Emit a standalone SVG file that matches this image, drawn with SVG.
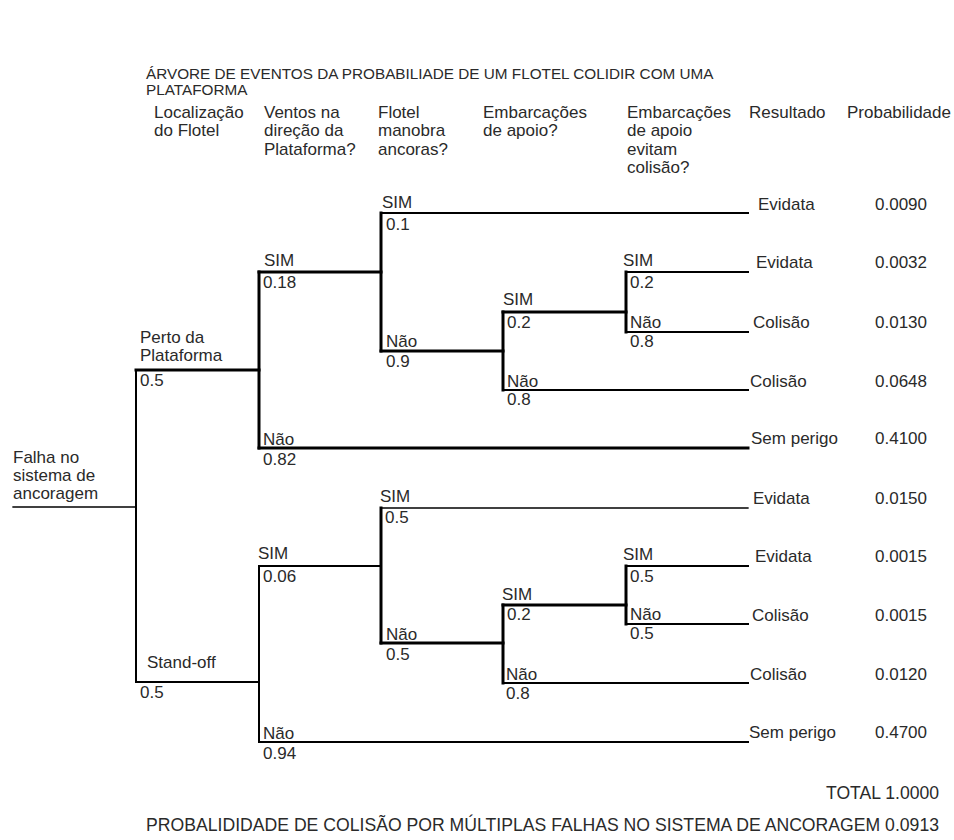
<svg xmlns="http://www.w3.org/2000/svg" width="954" height="840" viewBox="0 0 954 840">
<style>
text{font-family:"Liberation Sans",Arial,sans-serif;fill:#2a2a2a;font-size:17px}
.t{font-size:15.3px}
.b{font-size:18px}
.ln{stroke:#000;fill:none;stroke-linecap:square}
.w1{stroke-width:1.3}
.w2{stroke-width:2}
.w3{stroke-width:3}
</style>
<rect width="954" height="840" fill="#fff"/>
<g id="title">
<text class="t" x="146" y="79">ÁRVORE DE EVENTOS DA PROBABILIADE DE UM FLOTEL COLIDIR COM UMA</text>
<text class="t" x="146" y="95">PLATAFORMA</text>
</g>
<g id="headers">
<text x="154" y="118">Localização</text><text x="154" y="136">do Flotel</text>
<text x="264" y="118">Ventos na</text><text x="264" y="136">direção da</text><text x="264" y="155">Plataforma?</text>
<text x="378" y="118">Flotel</text><text x="378" y="136">manobra</text><text x="378" y="155">ancoras?</text>
<text x="483" y="118">Embarcações</text><text x="483" y="136">de apoio?</text>
<text x="627" y="118">Embarcações</text><text x="627" y="136">de apoio</text><text x="627" y="155">evitam</text><text x="627" y="173">colisão?</text>
<text x="749" y="118">Resultado</text>
<text x="847" y="118">Probabilidade</text>
</g>
<g id="connectors">
<line class="ln w1" x1="13" y1="507" x2="136" y2="507"/>
<line class="ln w2" x1="136" y1="370" x2="136" y2="682"/>
<line class="ln w3" x1="136" y1="370" x2="259" y2="370"/>
<line class="ln w2" x1="136" y1="682" x2="259" y2="682"/>
<line class="ln w3" x1="259" y1="272" x2="259" y2="448"/>
<line class="ln w2" x1="259" y1="566" x2="259" y2="742"/>
<line class="ln w3" x1="259" y1="272" x2="381" y2="272"/>
<line class="ln w3" x1="259" y1="448" x2="748" y2="448"/>
<line class="ln w3" x1="381" y1="213" x2="381" y2="351"/>
<line class="ln w2" x1="381" y1="213" x2="748" y2="213"/>
<line class="ln w3" x1="381" y1="351" x2="503" y2="351"/>
<line class="ln w3" x1="503" y1="312" x2="503" y2="390"/>
<line class="ln w3" x1="503" y1="312" x2="626" y2="312"/>
<line class="ln w2" x1="503" y1="390" x2="748" y2="390"/>
<line class="ln w3" x1="626" y1="272" x2="626" y2="332"/>
<line class="ln w2" x1="626" y1="272" x2="748" y2="272"/>
<line class="ln w2" x1="626" y1="332" x2="748" y2="332"/>
<line class="ln w2" x1="259" y1="566" x2="381" y2="566"/>
<line class="ln w2" x1="259" y1="742" x2="748" y2="742"/>
<line class="ln w3" x1="381" y1="508" x2="381" y2="643"/>
<line class="ln w1" x1="381" y1="508" x2="748" y2="508"/>
<line class="ln w3" x1="381" y1="643" x2="503" y2="643"/>
<line class="ln w3" x1="503" y1="605" x2="503" y2="683"/>
<line class="ln w3" x1="503" y1="605" x2="626" y2="605"/>
<line class="ln w2" x1="503" y1="683" x2="748" y2="683"/>
<line class="ln w3" x1="626" y1="566" x2="626" y2="624"/>
<line class="ln w2" x1="626" y1="566" x2="748" y2="566"/>
<line class="ln w2" x1="626" y1="624" x2="748" y2="624"/>
</g>
<g id="root"><text x="13" y="463">Falha no</text><text x="13" y="481">sistema de</text><text x="13" y="499">ancoragem</text></g>
<g id="perto"><text x="140" y="343">Perto da</text><text x="140" y="361">Plataforma</text><text x="140" y="386">0.5</text></g>
<g id="standoff"><text x="147" y="668">Stand-off</text><text x="140" y="698">0.5</text></g>
<g id="p-vento-sim"><text x="264" y="266">SIM</text><text x="263" y="288">0.18</text></g>
<g id="p-vento-nao"><text x="263" y="445">Não</text><text x="263" y="465">0.82</text></g>
<g id="p-ancora-sim"><text x="382" y="208">SIM</text><text x="386" y="230">0.1</text></g>
<g id="p-ancora-nao"><text x="386" y="347">Não</text><text x="386" y="367">0.9</text></g>
<g id="p-apoio-sim"><text x="503" y="305">SIM</text><text x="507" y="328">0.2</text></g>
<g id="p-apoio-nao"><text x="507" y="387">Não</text><text x="507" y="405">0.8</text></g>
<g id="p-evita-sim"><text x="623" y="266">SIM</text><text x="630" y="288">0.2</text></g>
<g id="p-evita-nao"><text x="630" y="328">Não</text><text x="630" y="347">0.8</text></g>
<g id="s-vento-sim"><text x="258" y="559">SIM</text><text x="263" y="582">0.06</text></g>
<g id="s-vento-nao"><text x="263" y="739">Não</text><text x="263" y="759">0.94</text></g>
<g id="s-ancora-sim"><text x="380" y="502">SIM</text><text x="385" y="523">0.5</text></g>
<g id="s-ancora-nao"><text x="386" y="640">Não</text><text x="386" y="660">0.5</text></g>
<g id="s-apoio-sim"><text x="502" y="600">SIM</text><text x="507" y="620">0.2</text></g>
<g id="s-apoio-nao"><text x="506" y="680">Não</text><text x="506" y="699">0.8</text></g>
<g id="s-evita-sim"><text x="623" y="560">SIM</text><text x="630" y="582">0.5</text></g>
<g id="s-evita-nao"><text x="630" y="620">Não</text><text x="630" y="639">0.5</text></g>
<g id="outcomes">
<text x="758" y="210">Evidata</text><text x="875" y="210">0.0090</text>
<text x="756" y="268">Evidata</text><text x="875" y="268">0.0032</text>
<text x="753" y="328">Colisão</text><text x="875" y="328">0.0130</text>
<text x="750" y="387">Colisão</text><text x="875" y="387">0.0648</text>
<text x="751" y="444">Sem perigo</text><text x="875" y="444">0.4100</text>
<text x="753" y="504">Evidata</text><text x="875" y="504">0.0150</text>
<text x="755" y="562">Evidata</text><text x="875" y="562">0.0015</text>
<text x="752" y="621">Colisão</text><text x="875" y="621">0.0015</text>
<text x="750" y="680">Colisão</text><text x="875" y="680">0.0120</text>
<text x="749" y="738">Sem perigo</text><text x="875" y="738">0.4700</text>
</g>
<g id="totals">
<text class="b" x="826" y="799" textLength="113" lengthAdjust="spacingAndGlyphs">TOTAL 1.0000</text>
<text x="146" y="831" style="font-size:17.5px" textLength="793" lengthAdjust="spacingAndGlyphs">PROBALIDIDADE DE COLISÃO POR MÚLTIPLAS FALHAS NO SISTEMA DE ANCORAGEM 0.0913</text>
</g>
</svg>
